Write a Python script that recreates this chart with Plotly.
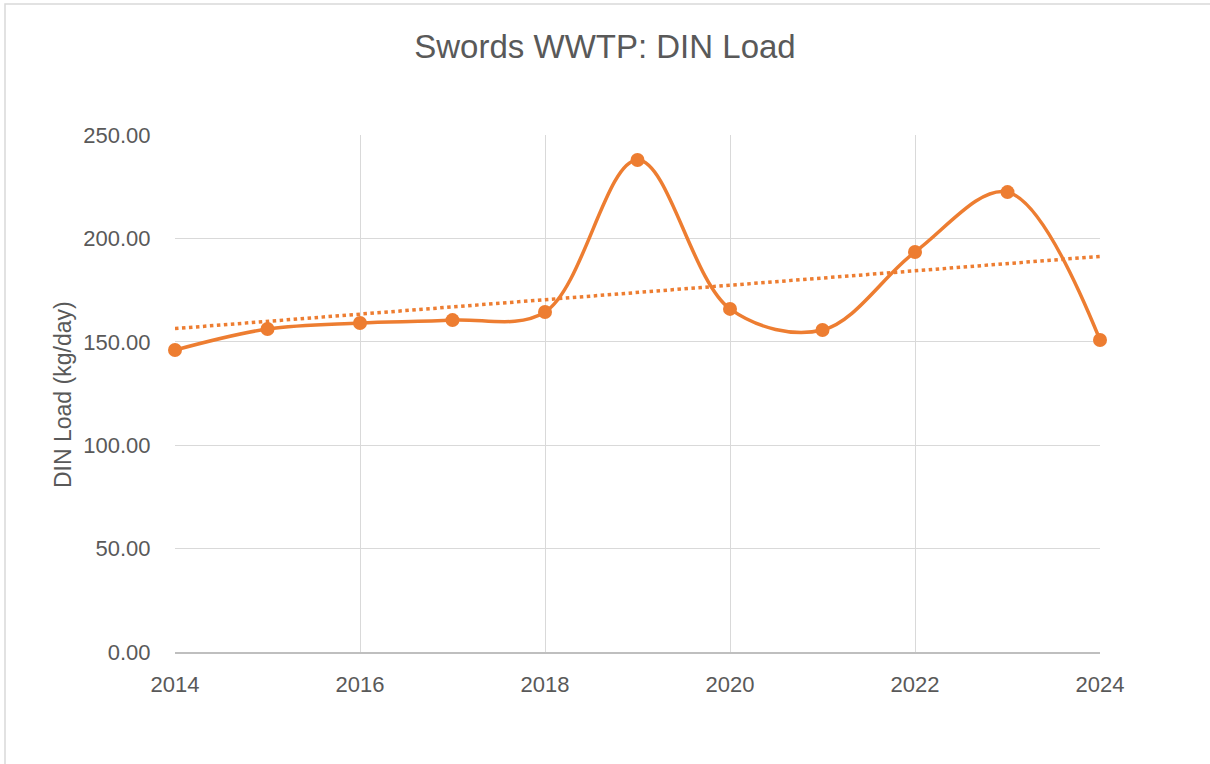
import numpy as np
import plotly.graph_objects as go

years = [2014, 2015, 2016, 2017, 2018, 2019, 2020, 2021, 2022, 2023, 2024]
din_load = [146.0, 156.2, 159.1, 160.5, 164.4, 237.9, 165.9, 155.7, 193.4, 222.4, 150.9]

y_ticks = [0, 50, 100, 150, 200, 250]
x_ticks = [2014, 2016, 2018, 2020, 2022, 2024]

ORANGE = "#ED7D31"
TEXT = "#595959"
GRID = "#D9D9D9"

coef = np.polyfit(years, din_load, 1)
trend = [coef[0] * x + coef[1] for x in years]

fig = go.Figure()
fig.add_trace(go.Scatter(
    x=years, y=trend, mode="lines",
    line=dict(color=ORANGE, width=3.5, dash="3.5px,3.5px"),
    hoverinfo="skip", showlegend=False, cliponaxis=False,
))
fig.add_trace(go.Scatter(
    x=years, y=din_load, mode="lines+markers",
    line=dict(color=ORANGE, width=3.5, shape="spline", smoothing=1.0),
    marker=dict(color=ORANGE, size=14),
    showlegend=False, cliponaxis=False,
))

W, H = 1210, 764
L, R, T, B = 175, 110, 135, 112
PW, PH = W - L - R, H - T - B

fig.update_layout(
    width=W, height=H,
    margin=dict(l=L, r=R, t=T, b=B, pad=0),
    paper_bgcolor="white", plot_bgcolor="white",
    font=dict(family="Liberation Sans, Arial, sans-serif", color=TEXT, size=22),
    title=dict(text="Swords WWTP: DIN Load", x=0.5, xref="container", xanchor="center",
               y=1 - 46 / H, yref="container", yanchor="middle",
               font=dict(size=33, color=TEXT)),
    xaxis=dict(range=[2014, 2024], tickvals=x_ticks, ticktext=[str(v) for v in x_ticks],
               showgrid=True, gridcolor=GRID, gridwidth=1.3,
               showline=True, linecolor="#BFBFBF", linewidth=1.5,
               zeroline=False, ticks="outside", ticklen=12, tickcolor="rgba(0,0,0,0)",
               tickfont=dict(size=22, color=TEXT)),
    yaxis=dict(range=[0, 250], tickvals=y_ticks, ticktext=[f"{v:.2f}" for v in y_ticks],
               showgrid=True, gridcolor=GRID, gridwidth=1.3,
               showline=False, zeroline=False,
               ticks="outside", ticklen=19, tickcolor="rgba(0,0,0,0)",
               tickfont=dict(size=22, color=TEXT)),
    annotations=[dict(
        text="DIN Load (kg/day)", textangle=-90,
        xref="paper", yref="paper", x=(63 - L) / PW, y=(H - B - 395) / PH,
        xanchor="center", yanchor="middle", showarrow=False,
        font=dict(size=23, color=TEXT),
    )],
    shapes=[dict(
        type="rect", xref="paper", yref="paper",
        x0=(5 - L) / PW, x1=(W + 20 - L) / PW,
        y0=-(B + 20) / PH, y1=(H - 4 - B) / PH,
        line=dict(color="#D9D9D9", width=1.5), fillcolor="rgba(0,0,0,0)", layer="below",
    )],
)

fig.write_html("out.html", config={"displayModeBar": False},
               post_script="document.body.style.margin='0px';document.body.style.overflow='hidden';")
